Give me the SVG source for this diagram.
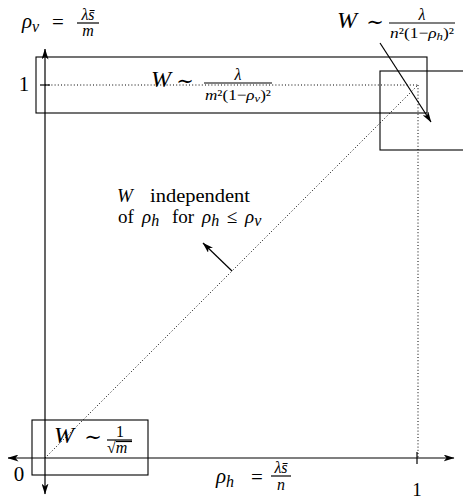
<svg xmlns="http://www.w3.org/2000/svg" width="463" height="500" viewBox="0 0 463 500">
<style>
.ln{stroke:#000;stroke-width:1.2;fill:none}
.box{stroke:#000;stroke-width:1.1;fill:none}
.dot{stroke:#000;stroke-width:1;stroke-dasharray:1 2.2;fill:none}
.tx{font-family:"Liberation Serif","DejaVu Serif",serif;fill:#000}
.it{font-style:italic}
.m{font-size:21px}
.w{font-size:24px}
.s{font-size:16px}
.d{font-size:15px}
.ss{font-size:11px}
.t{font-size:19px}
</style>
<defs>
<marker id="ah" viewBox="0 0 11 7" refX="10.5" refY="3.5" markerWidth="11" markerHeight="7" orient="auto-start-reverse" markerUnits="userSpaceOnUse">
<path d="M0,0 L11,3.5 L0,7 L3,3.5 z" fill="#000"/>
</marker>
</defs>

<g id="connectors">
<line id="axis-v" class="ln" x1="45" y1="494" x2="45" y2="49" marker-start="url(#ah)" marker-end="url(#ah)"/>
<line id="axis-h" class="ln" x1="8" y1="458" x2="454" y2="458" marker-start="url(#ah)" marker-end="url(#ah)"/>
<line class="ln" x1="40" y1="85" x2="50" y2="85"/>
<line class="ln" x1="417" y1="452" x2="417" y2="464"/>
<line class="dot" x1="45" y1="85" x2="418" y2="85"/>
<line class="dot" x1="418" y1="85" x2="418" y2="458"/>
<line class="dot" x1="45" y1="458" x2="418" y2="85"/>
<line class="ln" x1="380" y1="43" x2="431" y2="122" marker-end="url(#ah)"/>
<line class="ln" x1="232" y1="271" x2="203" y2="243" marker-end="url(#ah)"/>
</g>

<g id="box-top">
<rect class="box" x="36" y="57" width="391" height="56"/>
<text class="tx w it" x="151" y="87">W</text>
<text class="tx m" x="185" y="88" text-anchor="middle">∼</text>
<line class="ln" x1="204" y1="83" x2="272" y2="83" stroke-width="0.8"/>
<text class="tx s it" x="238" y="80" text-anchor="middle">λ</text>
<text class="tx d" x="205" y="100" textLength="66" lengthAdjust="spacingAndGlyphs"><tspan class="it">m</tspan>²(1−<tspan class="it">ρ</tspan><tspan class="ss it" dy="2">v</tspan><tspan dy="-2">)²</tspan></text>
</g>

<g id="box-right">
<rect class="box" x="380" y="71" width="95" height="79"/>
</g>

<g id="label-right">
<text class="tx w it" x="337" y="28">W</text>
<text class="tx m" x="375" y="29" text-anchor="middle">∼</text>
<line class="ln" x1="389" y1="23" x2="455" y2="23" stroke-width="0.8"/>
<text class="tx s it" x="422" y="20" text-anchor="middle">λ</text>
<text class="tx d" x="390" y="38" textLength="64" lengthAdjust="spacingAndGlyphs"><tspan class="it">n</tspan>²(1−<tspan class="it">ρ</tspan><tspan class="ss it" dy="2">h</tspan><tspan dy="-2">)²</tspan></text>
</g>

<g id="box-origin">
<rect class="box" x="32" y="420" width="116" height="55"/>
<text class="tx w it" x="54" y="443">W</text>
<text class="tx m" x="93" y="444" text-anchor="middle">∼</text>
<line class="ln" x1="107" y1="440" x2="132" y2="440" stroke-width="0.8"/>
<text class="tx s" x="120" y="437" text-anchor="middle">1</text>
<text class="tx s" x="107" y="453">√<tspan class="it">m</tspan></text>
<line class="ln" x1="116" y1="441.5" x2="132" y2="441.5" stroke-width="0.7"/>
</g>

<g id="label-rhov">
<text class="tx m it" x="22" y="28">ρ<tspan class="s" dy="4">v</tspan></text>
<text class="tx m" x="58" y="29" text-anchor="middle">=</text>
<line class="ln" x1="77" y1="23" x2="99" y2="23" stroke-width="0.8"/>
<text class="tx s it" x="88" y="20" text-anchor="middle">λs̄</text>
<text class="tx s it" x="88" y="36" text-anchor="middle">m</text>
</g>

<g id="label-rhoh">
<text class="tx m it" x="216" y="483">ρ<tspan class="s" dy="4">h</tspan></text>
<text class="tx m" x="257" y="484" text-anchor="middle">=</text>
<line class="ln" x1="271" y1="476" x2="291" y2="476" stroke-width="0.8"/>
<text class="tx s it" x="281" y="473" text-anchor="middle">λs̄</text>
<text class="tx s it" x="281" y="490" text-anchor="middle">n</text>
</g>

<g id="tick-labels">
<text class="tx m" x="24" y="91" text-anchor="middle">1</text>
<text class="tx m" x="19" y="481" text-anchor="middle">0</text>
<text class="tx" x="417" y="496" text-anchor="middle" font-size="19">1</text>
</g>

<g id="label-independent">
<text class="tx t it" x="117" y="202">W</text>
<text class="tx t" x="150" y="202" textLength="100" lengthAdjust="spacingAndGlyphs">independent</text>
<text class="tx t" x="118" y="223">of</text>
<text class="tx t it" x="142" y="223">ρ<tspan class="s" dy="3">h</tspan></text>
<text class="tx t" x="172" y="223">for</text>
<text class="tx t it" x="202" y="223">ρ<tspan class="s" dy="3">h</tspan></text>
<text class="tx t" x="232" y="223" text-anchor="middle">≤</text>
<text class="tx t it" x="245" y="223">ρ<tspan class="s" dy="3">v</tspan></text>
</g>
</svg>
